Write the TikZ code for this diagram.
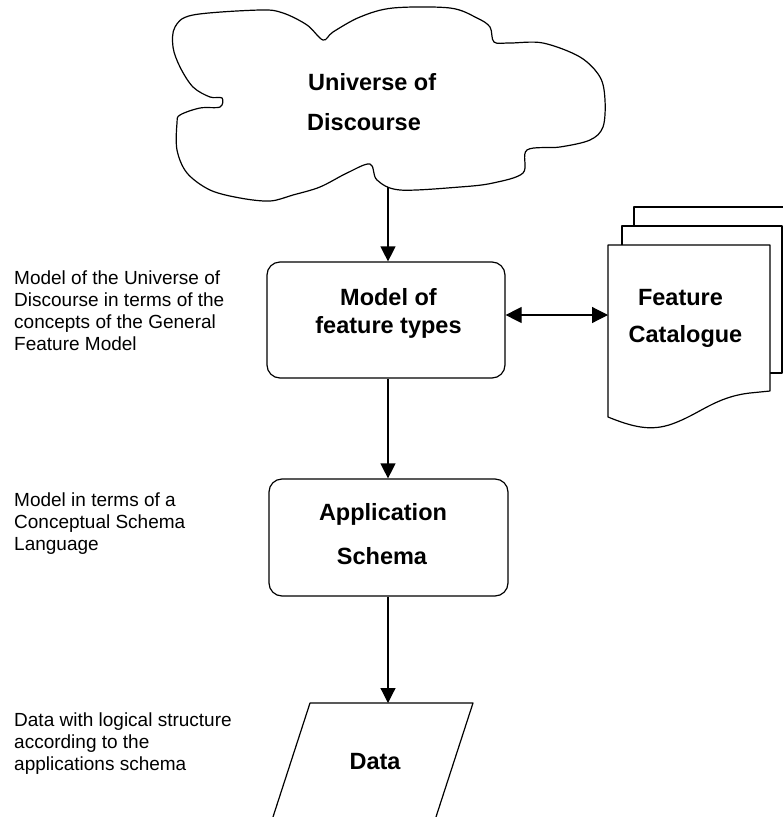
\documentclass[tikz,border=0pt]{standalone}
\usepackage{fontspec}
\setmainfont{Liberation Sans}
\usetikzlibrary{arrows.meta}
\begin{document}
\begin{tikzpicture}[x=1pt,y=-1pt,
  shapeline/.style={line width=1.2pt, line join=round},
  box/.style={draw, line width=1.2pt, rounded corners=13pt, minimum width=238pt, minimum height=116pt, inner sep=0pt},
  title/.style={font=\fontsize{23.5}{28}\selectfont\bfseries, inner sep=0pt, anchor=base},
  note/.style={font=\fontsize{19}{22}\selectfont, inner sep=0pt, anchor=north west, align=left},
  arr/.style={line width=1.2pt, -{Triangle[length=15pt,width=15pt]}},
  darr/.style={line width=1.2pt, {Triangle[length=16pt,width=16pt]}-{Triangle[length=16pt,width=16pt]}}]
\useasboundingbox (0,0) rectangle (783,817);
\clip (0,0) rectangle (783,817);

% cloud: Universe of Discourse
\draw[shapeline, fill=white] plot[smooth cycle, tension=0.55] coordinates {(193,15) (260,10) (283,13) (307,25) (323,40) (333,32) (360,17) (393,8) (450,8) (477,18) (490,27) (494,42) (510,43) (543,43) (580,57) (600,77) (605,100) (603,127) (590,140) (560,147) (527,150) (523,173) (493,183) (460,187) (400,190) (377,180) (370,164) (347,173) (320,187) (293,195) (270,201) (240,198) (210,190) (187,173) (177,150) (177,123) (180,115) (200,108) (220,107) (222,98) (210,97) (193,87) (180,67) (173,47) (175,27)};
\node[title, anchor=base west] (ud1) at (308,90) {Universe of};
\node[title, anchor=base west] (ud2) at (307,130) {Discourse};

% boxes
\node[box] (mft) at (386,320) {};
\node[title] (mft1) at (388.5,305) {Model of};
\node[title] (mft2) at (388.5,333) {feature types};
\node[box, minimum width=239pt, minimum height=117pt] (as) at (388.5,537.5) {};
\node[title] (as1) at (383,520) {Application};
\node[title] (as2) at (382,564) {Schema};

% feature catalogue (stacked pages)
\filldraw[shapeline, fill=white] (634,355) -- (634,207) -- (800,207) -- (800,355) -- cycle;
\filldraw[shapeline, fill=white] (622,373) -- (622,226) -- (782,226) -- (782,373) -- cycle;
\filldraw[shapeline, fill=white] (608,417) -- (608,245) -- (770,245) -- (770,391) -- (750,393) .. controls (715,397) and (700,414) .. (672,424) .. controls (652,431) and (635,428) .. (608,417) -- cycle;
\node[title] (fc1) at (680.5,305) {Feature};
\node[title] (fc2) at (685.5,342) {Catalogue};

% data parallelogram
\coordinate (dtl) at (310,703);
\coordinate (dtr) at (473,703);
\coordinate (dbr) at (435,820);
\coordinate (dbl) at (272,820);
\draw[shapeline] (dtl) -- (dtr) -- (dbr) -- (dbl) -- cycle;
\node[title] (data) at (375,769) {Data};

% notes
\node[note] (n1) at (14,271) {Model of the Universe of\\Discourse in terms of the\\concepts of the General\\Feature Model};
\node[note] (n2) at (14,493) {Model in terms of a\\Conceptual Schema\\Language};
\node[note] (n3) at (14,713) {Data with logical structure\\according to the\\applications schema};

% connectors
\coordinate (cloudbot) at (388,187);
\coordinate (fcin) at (608,315);
\coordinate (datatop) at (388,703);
\draw[arr] (cloudbot) -- (cloudbot |- mft.north);
\draw[arr] (mft.south -| cloudbot) -- (as.north -| cloudbot);
\draw[arr] (as.south -| cloudbot) -- (datatop);
\draw[darr] (mft.east |- fcin) -- (fcin);
\end{tikzpicture}
\end{document}
